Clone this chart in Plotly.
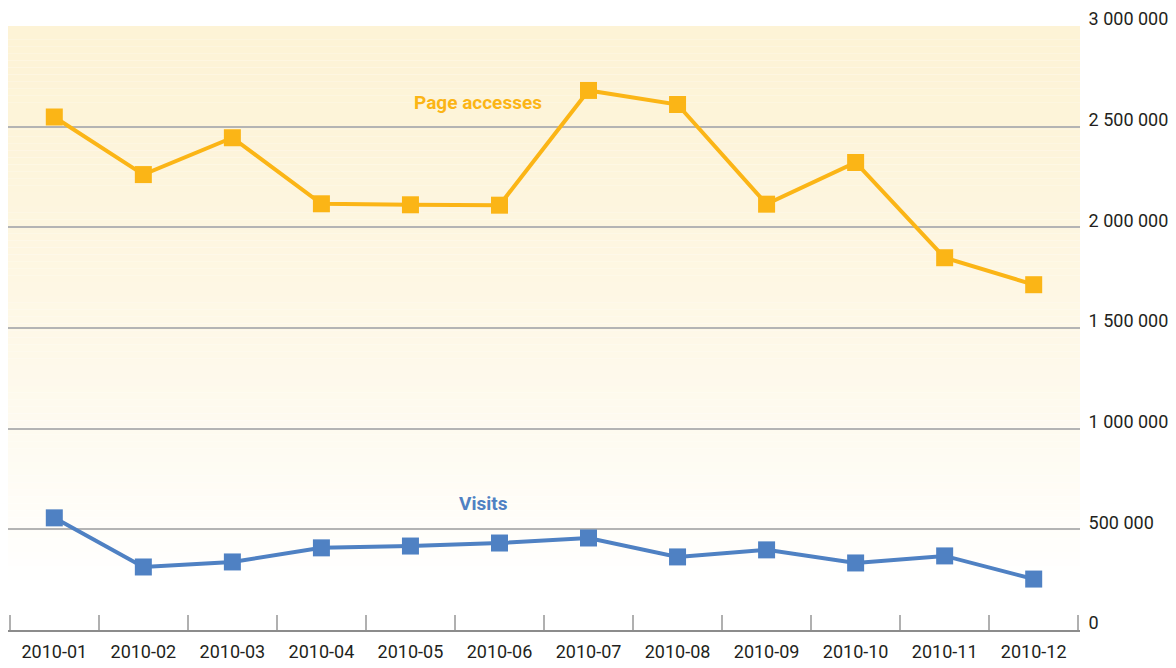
import plotly.graph_objects as go

months = ["2010-01", "2010-02", "2010-03", "2010-04", "2010-05", "2010-06",
          "2010-07", "2010-08", "2010-09", "2010-10", "2010-11", "2010-12"]
page_accesses = [2548000, 2262000, 2445000, 2117000, 2112000, 2110000,
                 2680000, 2610000, 2115000, 2322000, 1849000, 1715000]
visits = [557000, 313000, 338000, 408000, 417000, 432000,
          457000, 363000, 398000, 333000, 368000, 253000]
y_ticks = [0, 500000, 1000000, 1500000, 2000000, 2500000, 3000000]

ORANGE = "#FBB516"
BLUE = "#4F81C3"
FONT = "Roboto, Liberation Sans, sans-serif"

fig = go.Figure()

# gradient background (yellow top -> white bottom)
top_rgb = (253, 243, 214)
n = 80
y_top, y_bot = 3000000, 250000
shapes = []
for i in range(n):
    f0 = i / n
    f1 = (i + 1) / n
    y1 = y_top - (y_top - y_bot) * f0
    y0 = y_top - (y_top - y_bot) * f1
    t = f0 ** 1.4
    c = tuple(round(top_rgb[k] + (255 - top_rgb[k]) * t) for k in range(3))
    shapes.append(dict(type="rect", xref="paper", yref="y", x0=0, x1=1,
                       y0=y0, y1=y1, fillcolor="rgb(%d,%d,%d)" % c,
                       line=dict(width=0), layer="below"))

fig.add_trace(go.Scatter(x=months, y=page_accesses, mode="lines+markers",
                         name="Page accesses",
                         line=dict(color=ORANGE, width=4),
                         marker=dict(symbol="square", size=17, color=ORANGE)))
fig.add_trace(go.Scatter(x=months, y=visits, mode="lines+markers",
                         name="Visits",
                         line=dict(color=BLUE, width=4),
                         marker=dict(symbol="square", size=17, color=BLUE)))

fig.add_annotation(x=4.76, y=2620000, xref="x", yref="y", text="<b>Page accesses</b>",
                   showarrow=False, font=dict(family=FONT, size=19, color=ORANGE))
fig.add_annotation(x=4.82, y=626000, xref="x", yref="y", text="<b>Visits</b>",
                   showarrow=False, font=dict(family=FONT, size=19, color=BLUE))

# page has an 8px body margin, so the figure is sized/offset accordingly
fig.update_layout(
    width=1168, height=660,
    margin=dict(l=0, r=96, t=18, b=38),
    paper_bgcolor="white", plot_bgcolor="white",
    showlegend=False,
    separators=". ",
    shapes=shapes,
    font=dict(family=FONT, size=18, color="#231F20"),
)
fig.update_xaxes(type="category", range=[-0.52, 11.52], showgrid=False,
                 automargin=False, tickangle=0, ticklabelstandoff=4,
                 showline=True, linecolor="#8C8C8C", linewidth=2,
                 ticks="inside", tickson="boundaries", ticklen=15,
                 tickcolor="#B0B0B0", tickwidth=1.5,
                 tickfont=dict(family=FONT, size=18, color="#231F20"))
fig.update_yaxes(range=[0, 3000000], side="right", tickvals=y_ticks,
                 automargin=False, ticklabelshift=-7,
                 tickformat=",d", showgrid=True, gridcolor="#B4B4B4", gridwidth=1.5,
                 zeroline=False, showline=False, ticks="outside", ticklen=4,
                 tickcolor="rgba(0,0,0,0)",
                 tickfont=dict(family=FONT, size=18, color="#231F20"))

fig.write_html("out.html")
